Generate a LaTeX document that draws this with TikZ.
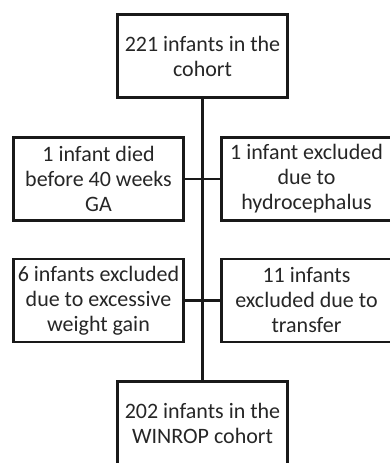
\documentclass[tikz,border=0pt]{standalone}
\usepackage{fontspec}
\setmainfont{Carlito}
\usetikzlibrary{positioning}

\begin{document}
\begin{tikzpicture}[
    x=1pt, y=-1pt,
    font=\fontsize{22}{25}\selectfont,
    box/.style={
        draw=black!90,
        line width=2.6pt,
        align=center,
        inner sep=2pt,
        minimum width=170pt,
        minimum height=83pt,
        text=black!85
    },
    link/.style={line width=2.6pt, draw=black!90}
]
\path[use as bounding box, clip] (0,0) rectangle (390,463);

% main flow, top to bottom
\node[box] (cohort) at (202.5,56) {221 infants in the\\cohort};
\node[box] (winrop) at (202.5,423) {202 infants in the\\WINROP cohort};

% exclusions, two per row
\node[box] (died) at (98.5,179) {1 infant died\\before 40 weeks\\GA};
\node[box] (hydro) at (306.5,179) {1 infant excluded\\due to\\hydrocephalus};
\node[box] (weight) at (98.5,300.5) {6 infants excluded\\due to excessive\\weight gain};
\node[box] (transfer) at (306.5,300.5) {11 infants\\excluded due to\\transfer};

\draw[link] (cohort) -- (winrop);
\draw[link] (died) -- (hydro);
\draw[link] (weight) -- (transfer);

\end{tikzpicture}
\end{document}
